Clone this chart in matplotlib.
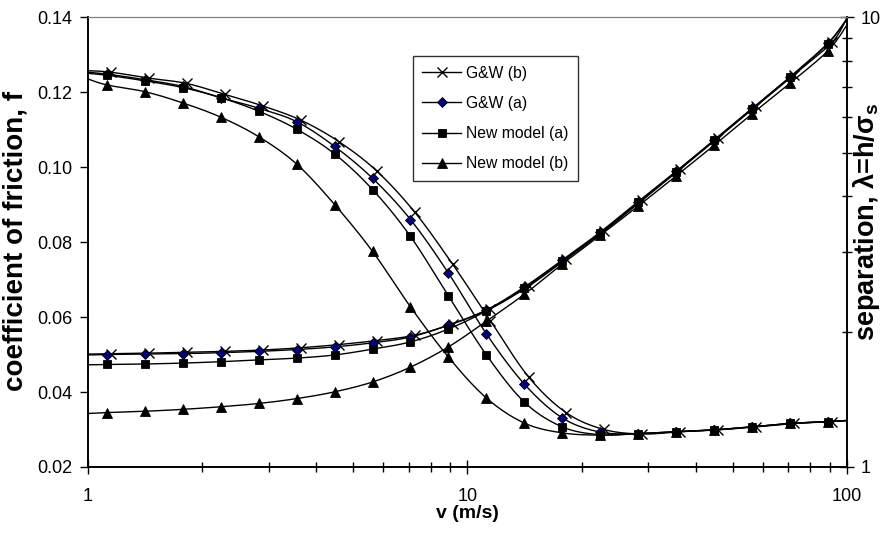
import numpy as np
import matplotlib
matplotlib.use("Agg")
import matplotlib.pyplot as plt
from matplotlib.ticker import LogLocator, NullFormatter, FixedLocator

plt.rcParams['font.family'] = ['Liberation Sans', 'DejaVu Sans']
plt.rcParams['mathtext.fontset'] = 'custom'
plt.rcParams['mathtext.rm'] = 'Liberation Sans'
plt.rcParams['mathtext.bf'] = 'Liberation Sans:bold'

# sliding speed (m/s); first and last entries are the line ends at the axis limits
v = [1.0, 1.122, 1.413, 1.778, 2.239, 2.818, 3.548, 4.467, 5.623, 7.079, 8.913,
     11.22, 14.13, 17.78, 22.39, 28.18, 35.48, 44.67, 56.23, 70.79, 89.13, 100.0]
v_gwb = [1.0, 1.15, 1.45, 1.82, 2.29, 2.89, 3.64, 4.58, 5.76, 7.26, 9.14,
         11.5, 14.5, 18.2, 22.9, 28.9, 36.4, 45.8, 57.6, 72.6, 91.4, 100.0]

# coefficient of friction
f_gwb = [0.1257, 0.1253, 0.1237, 0.1223, 0.1194, 0.1163, 0.1125, 0.1068, 0.0990, 0.0880, 0.0741,
         0.0590, 0.0440, 0.0345, 0.0300, 0.0288, 0.0294, 0.0299, 0.0307, 0.0316, 0.0321, 0.0324]
f_gwa = [0.1253, 0.1248, 0.1233, 0.1215, 0.1185, 0.1157, 0.1121, 0.1055, 0.0970, 0.0860, 0.0717,
         0.0555, 0.0421, 0.0331, 0.0293, 0.0289, 0.0294, 0.0299, 0.0307, 0.0316, 0.0321, 0.0324]
f_newa = [0.1250, 0.1245, 0.1230, 0.1212, 0.1185, 0.1149, 0.1101, 0.1035, 0.0940, 0.0815, 0.0656,
          0.0499, 0.0373, 0.0307, 0.0286, 0.0289, 0.0294, 0.0299, 0.0307, 0.0316, 0.0321, 0.0324]
f_newb = [0.1235, 0.1219, 0.1201, 0.1171, 0.1133, 0.1081, 0.1008, 0.0900, 0.0775, 0.0627, 0.0493,
          0.0384, 0.0317, 0.0291, 0.0285, 0.0289, 0.0294, 0.0299, 0.0307, 0.0316, 0.0321, 0.0324]

# separation lambda = h/sigma_s
s_gwb = [1.782, 1.786, 1.791, 1.799, 1.807, 1.820, 1.841, 1.871, 1.910, 1.963, 2.080,
         2.249, 2.523, 2.897, 3.342, 3.917, 4.592, 5.395, 6.339, 7.447, 8.790, 9.954]
s_gwa = [1.774, 1.778, 1.782, 1.786, 1.795, 1.807, 1.824, 1.849, 1.888, 1.945, 2.068,
         2.234, 2.512, 2.884, 3.327, 3.890, 4.539, 5.333, 6.266, 7.362, 8.750, 9.908]
s_newa = [1.687, 1.690, 1.694, 1.702, 1.714, 1.730, 1.746, 1.774, 1.828, 1.897, 2.026,
          2.223, 2.500, 2.871, 3.311, 3.873, 4.529, 5.321, 6.252, 7.345, 8.730, 9.886]
s_newb = [1.315, 1.321, 1.330, 1.343, 1.361, 1.384, 1.419, 1.469, 1.545, 1.667, 1.849,
          2.109, 2.421, 2.825, 3.273, 3.802, 4.436, 5.188, 6.095, 7.129, 8.414, 9.594]

labels = ['G&W (b)', 'G&W (a)', 'New model (a)', 'New model (b)']


def smooth(x, y, logy=False, n=12):
    # Catmull-Rom curve through the points in log-x space (like Excel smoothed lines)
    px = np.log10(np.asarray(x, float))
    py = np.asarray(y, float)
    if logy:
        py = np.log10(py)
    P = np.column_stack([px, py])
    P = np.vstack([P[0], P, P[-1]])
    out = []
    t = np.linspace(0, 1, n, endpoint=False)[:, None]
    for i in range(1, len(P) - 2):
        p0, p1, p2, p3 = P[i - 1], P[i], P[i + 1], P[i + 2]
        seg = 0.5 * ((2 * p1) + (-p0 + p2) * t + (2 * p0 - 5 * p1 + 4 * p2 - p3) * t ** 2
                     + (-p0 + 3 * p1 - 3 * p2 + p3) * t ** 3)
        out.append(seg)
    out.append(P[-2][None, :])
    out = np.vstack(out)
    xs = 10 ** out[:, 0]
    ys = 10 ** out[:, 1] if logy else out[:, 1]
    return xs, ys


fig = plt.figure(figsize=(8.84, 5.34), dpi=100)
ax = fig.add_axes([0.0995, 0.1255, 0.8585, 0.8425])
ax2 = ax.twinx()

styles = [
    dict(marker='x', ms=7, mfc='black', mec='black', mew=1.0),
    dict(marker='D', ms=5, mfc='#000080', mec='black', mew=0.6),
    dict(marker='s', ms=6, mfc='black', mec='black', mew=0.6),
    dict(marker='^', ms=7.5, mfc='black', mec='black', mew=0.6),
]
xs_all = [v_gwb, v, v, v]
fric = [f_gwb, f_gwa, f_newa, f_newb]
sep = [s_gwb, s_gwa, s_newa, s_newb]

handles = []
for xv, fv, sv, st, lab in zip(xs_all, fric, sep, styles, labels):
    inner = slice(1, -1)
    sx, sy = smooth(xv, fv)
    ax.plot(sx, sy, color='black', lw=1.0)
    ax.plot(xv[inner], fv[inner], ls='none', **st)
    sx, sy = smooth(xv, sv, logy=True)
    ax2.plot(sx, sy, color='black', lw=1.0)
    ax2.plot(xv[inner], sv[inner], ls='none', **st)
    h, = ax.plot([], [], color='black', lw=1.0, label=lab, **st)
    handles.append(h)

ax.set_xscale('log')
ax.set_xlim(1, 100)
ax.set_ylim(0.02, 0.14)
ax.yaxis.set_major_locator(FixedLocator([0.02, 0.04, 0.06, 0.08, 0.10, 0.12, 0.14]))
ax.set_yticklabels(['0.02', '0.04', '0.06', '0.08', '0.10', '0.12', '0.14'])
ax.set_xticks([1, 10, 100])
ax.set_xticklabels(['1', '10', '100'])
ax.xaxis.set_minor_locator(LogLocator(base=10, subs=np.arange(2, 10)))
ax.xaxis.set_minor_formatter(NullFormatter())

ax2.set_yscale('log')
ax2.set_ylim(1, 10)
ax2.set_yticks([1, 10])
ax2.set_yticklabels(['1', '10'])
ax2.yaxis.set_minor_locator(LogLocator(base=10, subs=np.arange(2, 10)))
ax2.yaxis.set_minor_formatter(NullFormatter())

ax.tick_params(axis='y', direction='out', length=6, width=1, labelsize=13, pad=5)
ax.tick_params(axis='x', which='major', direction='inout', length=10, width=1, labelsize=13, pad=10)
ax.tick_params(axis='x', which='minor', direction='inout', length=7, width=1)
ax2.tick_params(axis='y', which='major', direction='inout', length=10, width=1, labelsize=13, pad=5)
ax2.tick_params(axis='y', which='minor', direction='inout', length=7, width=1)

for a in (ax, ax2):
    a.spines['top'].set_color('#808080')
    a.spines['left'].set_linewidth(1.2)
    a.spines['bottom'].set_linewidth(1.2)
    a.spines['right'].set_linewidth(1.2)

ax.set_xlabel('v (m/s)', fontsize=14, fontweight='bold')
ax.xaxis.set_label_coords(0.5, -0.084)
ax.set_ylabel('coefficient of friction, f', fontsize=20, fontweight='bold')
ax.yaxis.set_label_coords(-0.079, 0.502)
ax2.set_ylabel(r'separation, λ=h/σ$_\mathbf{s}$', fontsize=19.5, fontweight='bold')
ax2.yaxis.set_label_coords(1.006, 0.544)

leg = ax2.legend(handles=handles, loc='upper left', bbox_to_anchor=(0.428, 0.913),
                 fontsize=11.3, frameon=True, fancybox=False, edgecolor='black',
                 handlelength=2.5, handletextpad=0.3, labelspacing=0.97, borderpad=0.6,
                 borderaxespad=0)
leg.get_frame().set_linewidth(1.0)

fig.savefig('out.png', dpi=100)
